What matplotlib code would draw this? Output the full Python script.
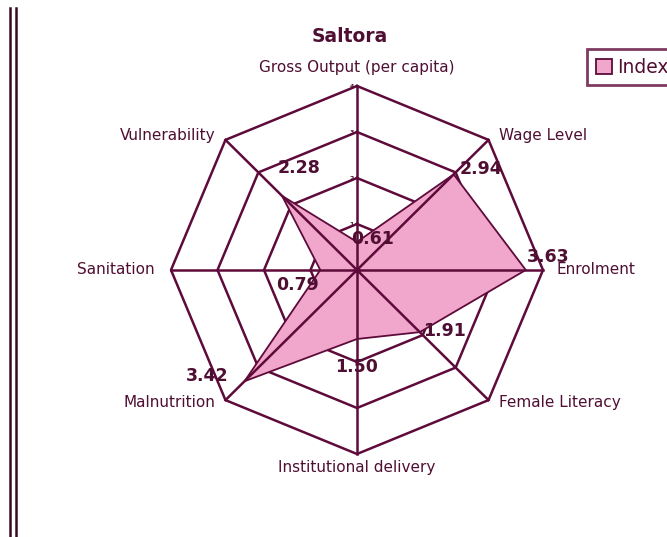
import numpy as np
import matplotlib
matplotlib.use("Agg")
import matplotlib.pyplot as plt
from matplotlib.lines import Line2D

# data
CATEGORIES = ["Gross Output (per capita)", "Wage Level", "Enrolment", "Female Literacy",
              "Institutional delivery", "Malnutrition", "Sanitation", "Vulnerability"]
INDEX = [0.61, 2.94, 3.63, 1.91, 1.50, 3.42, 0.79, 2.28]
RINGS = [1, 2, 3, 4]
TITLE = "Saltora"
SERIES = "Index"

GRID = "#5e0a3a"
TEXT = "#4f0f33"
FILL = "#f1a7cb"

# label placement (points offset for values, anchor for categories)
VAL_OFF = [(-4, 2), (4, 4), (1, 9), (2, 1), (-16, -20), (-42, 4), (-32, -11), (-3, 20)]
CAT_POS = [(0, 4.4, "center"), (3.05, 2.92, "left"), (4.3, 0, "left"), (3.05, -2.88, "left"),
           (0, -4.3, "center"), (-3.05, -2.88, "right"), (-4.35, 0, "right"), (-3.05, 2.92, "right")]

fig = plt.figure(figsize=(6.67, 5.37), dpi=100)
ax = fig.add_axes([(357 - 232.5) / 667, (537 - 270 - 230) / 537, 465 / 667, 460 / 537])
ax.set_xlim(-5, 5); ax.set_ylim(-5, 5)
ax.axis("off")

n = len(CATEGORIES)
ang = np.arange(n) * 2 * np.pi / n
sx, sy = np.sin(ang), np.cos(ang)

# octagon rings and spokes
for r in RINGS:
    ax.plot(np.append(r * sx, r * sx[0]), np.append(r * sy, r * sy[0]), color=GRID, lw=1.8, zorder=1)
    ax.text(-0.07, r, str(r), fontsize=4.5, color=TEXT, ha="right", va="center", fontweight="bold")
for i in range(n):
    ax.plot([0, RINGS[-1] * sx[i]], [0, RINGS[-1] * sy[i]], color=GRID, lw=1.8, zorder=3)

v = np.array(INDEX)
ax.fill(v * sx, v * sy, facecolor=FILL, edgecolor=GRID, lw=1.3, zorder=2, label=SERIES)
ax.plot(0, 0, "o", color=GRID, ms=3.5, zorder=4)

for i, val in enumerate(INDEX):
    ax.annotate(f"{val:.2f}", (val * sx[i], val * sy[i]), xytext=VAL_OFF[i], textcoords="offset points",
                fontsize=12.5, fontweight="bold", color=TEXT, ha="left", va="center", zorder=5)

for lab, (x, y, ha) in zip(CATEGORIES, CAT_POS):
    ax.text(x, y, lab, fontsize=11, color=TEXT, ha=ha, va="center")

fig.text(350 / 667, 1 - 37 / 537, TITLE, fontsize=13.5, fontweight="bold", color=TEXT, ha="center", va="center")

# legend sits partly past the right edge, as in the source image
leg = fig.legend(loc="upper left", bbox_to_anchor=(578 / 667, 1 - 40 / 537), fontsize=13.5,
                 frameon=True, fancybox=False, handlelength=0.85, handleheight=0.85,
                 borderpad=0.45, handletextpad=0.3)
leg.get_frame().set_edgecolor(GRID)
leg.get_frame().set_linewidth(2.0)
for t in leg.get_texts():
    t.set_color(TEXT)

# double border on the left
for xp in (10, 16):
    fig.add_artist(Line2D([xp / 667, xp / 667], [0, 1 - 8 / 537], color="#3a0a22", lw=1.8))

fig.savefig("out.png", dpi=100)
